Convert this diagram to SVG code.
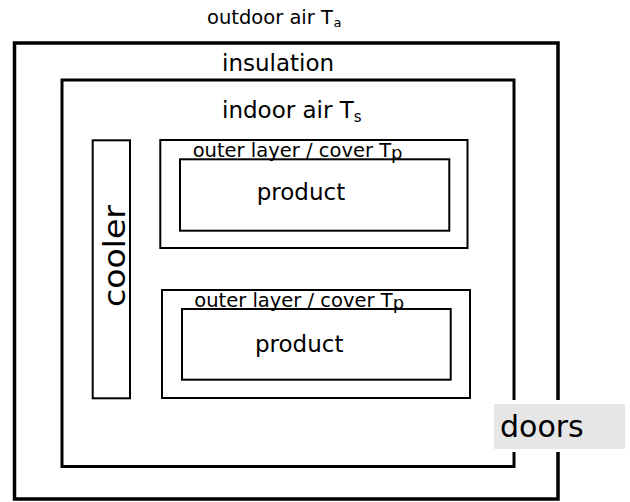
<svg xmlns="http://www.w3.org/2000/svg" width="630" height="502" viewBox="0 0 630 502">
  <style>
    text { font-family: "DejaVu Sans", "Liberation Sans", sans-serif; fill: #000; }
    .wall { fill: none; stroke: #000; }
    .box { fill: none; stroke: #000; stroke-width: 2; }
    .label { font-size: 23px; }
    .layer { font-size: 19.5px; }
    .sub { font-size: 15px; }
  </style>
  <rect width="630" height="502" fill="#fff"/>

  <!-- outdoor air label -->
  <g id="outdoor">
    <text x="207" y="23.5" font-size="19.5">outdoor air T<tspan font-size="13" dx="0.5" dy="3">a</tspan></text>
  </g>

  <!-- insulated outer wall with door opening on the right -->
  <g id="insulation">
    <path class="wall" stroke-width="3.5" d="M558 400 V43 H14.5 V499 H558 V452"/>
    <text class="label" x="222" y="70.7">insulation</text>
  </g>

  <!-- indoor air space -->
  <g id="indoor">
    <path class="wall" stroke-width="3" d="M514 400 V80 H62 V466.5 H514 V452"/>
    <text class="label" x="222" y="118.3">indoor air T<tspan class="sub" dy="3.5">s</tspan></text>
  </g>

  <!-- cooler unit -->
  <g id="cooler">
    <rect class="box" x="92.7" y="140.3" width="37.3" height="258"/>
    <text font-size="31" textLength="102" lengthAdjust="spacingAndGlyphs" transform="translate(125 307) rotate(-90)">cooler</text>
  </g>

  <!-- upper product with its cover -->
  <g id="product1">
    <rect class="box" x="160.3" y="140" width="307.2" height="108"/>
    <rect class="box" x="180" y="159.3" width="269.3" height="71.4"/>
    <text class="layer" x="192.7" y="156.7">outer layer / cover T<tspan dy="2.6" font-size="18">p</tspan></text>
    <text class="label" x="256.7" y="200">product</text>
  </g>

  <!-- lower product with its cover -->
  <g id="product2">
    <rect class="box" x="162" y="290" width="308" height="108"/>
    <rect class="box" x="182" y="309" width="268.7" height="70.7"/>
    <text class="layer" x="194.3" y="306.7">outer layer / cover T<tspan dy="2.6" font-size="18">p</tspan></text>
    <text class="label" x="255" y="351.7">product</text>
  </g>

  <!-- doors -->
  <g id="doors">
    <rect x="494" y="404" width="131" height="45" fill="#e6e6e6"/>
    <text font-size="30" x="500" y="437">doors</text>
  </g>
</svg>
